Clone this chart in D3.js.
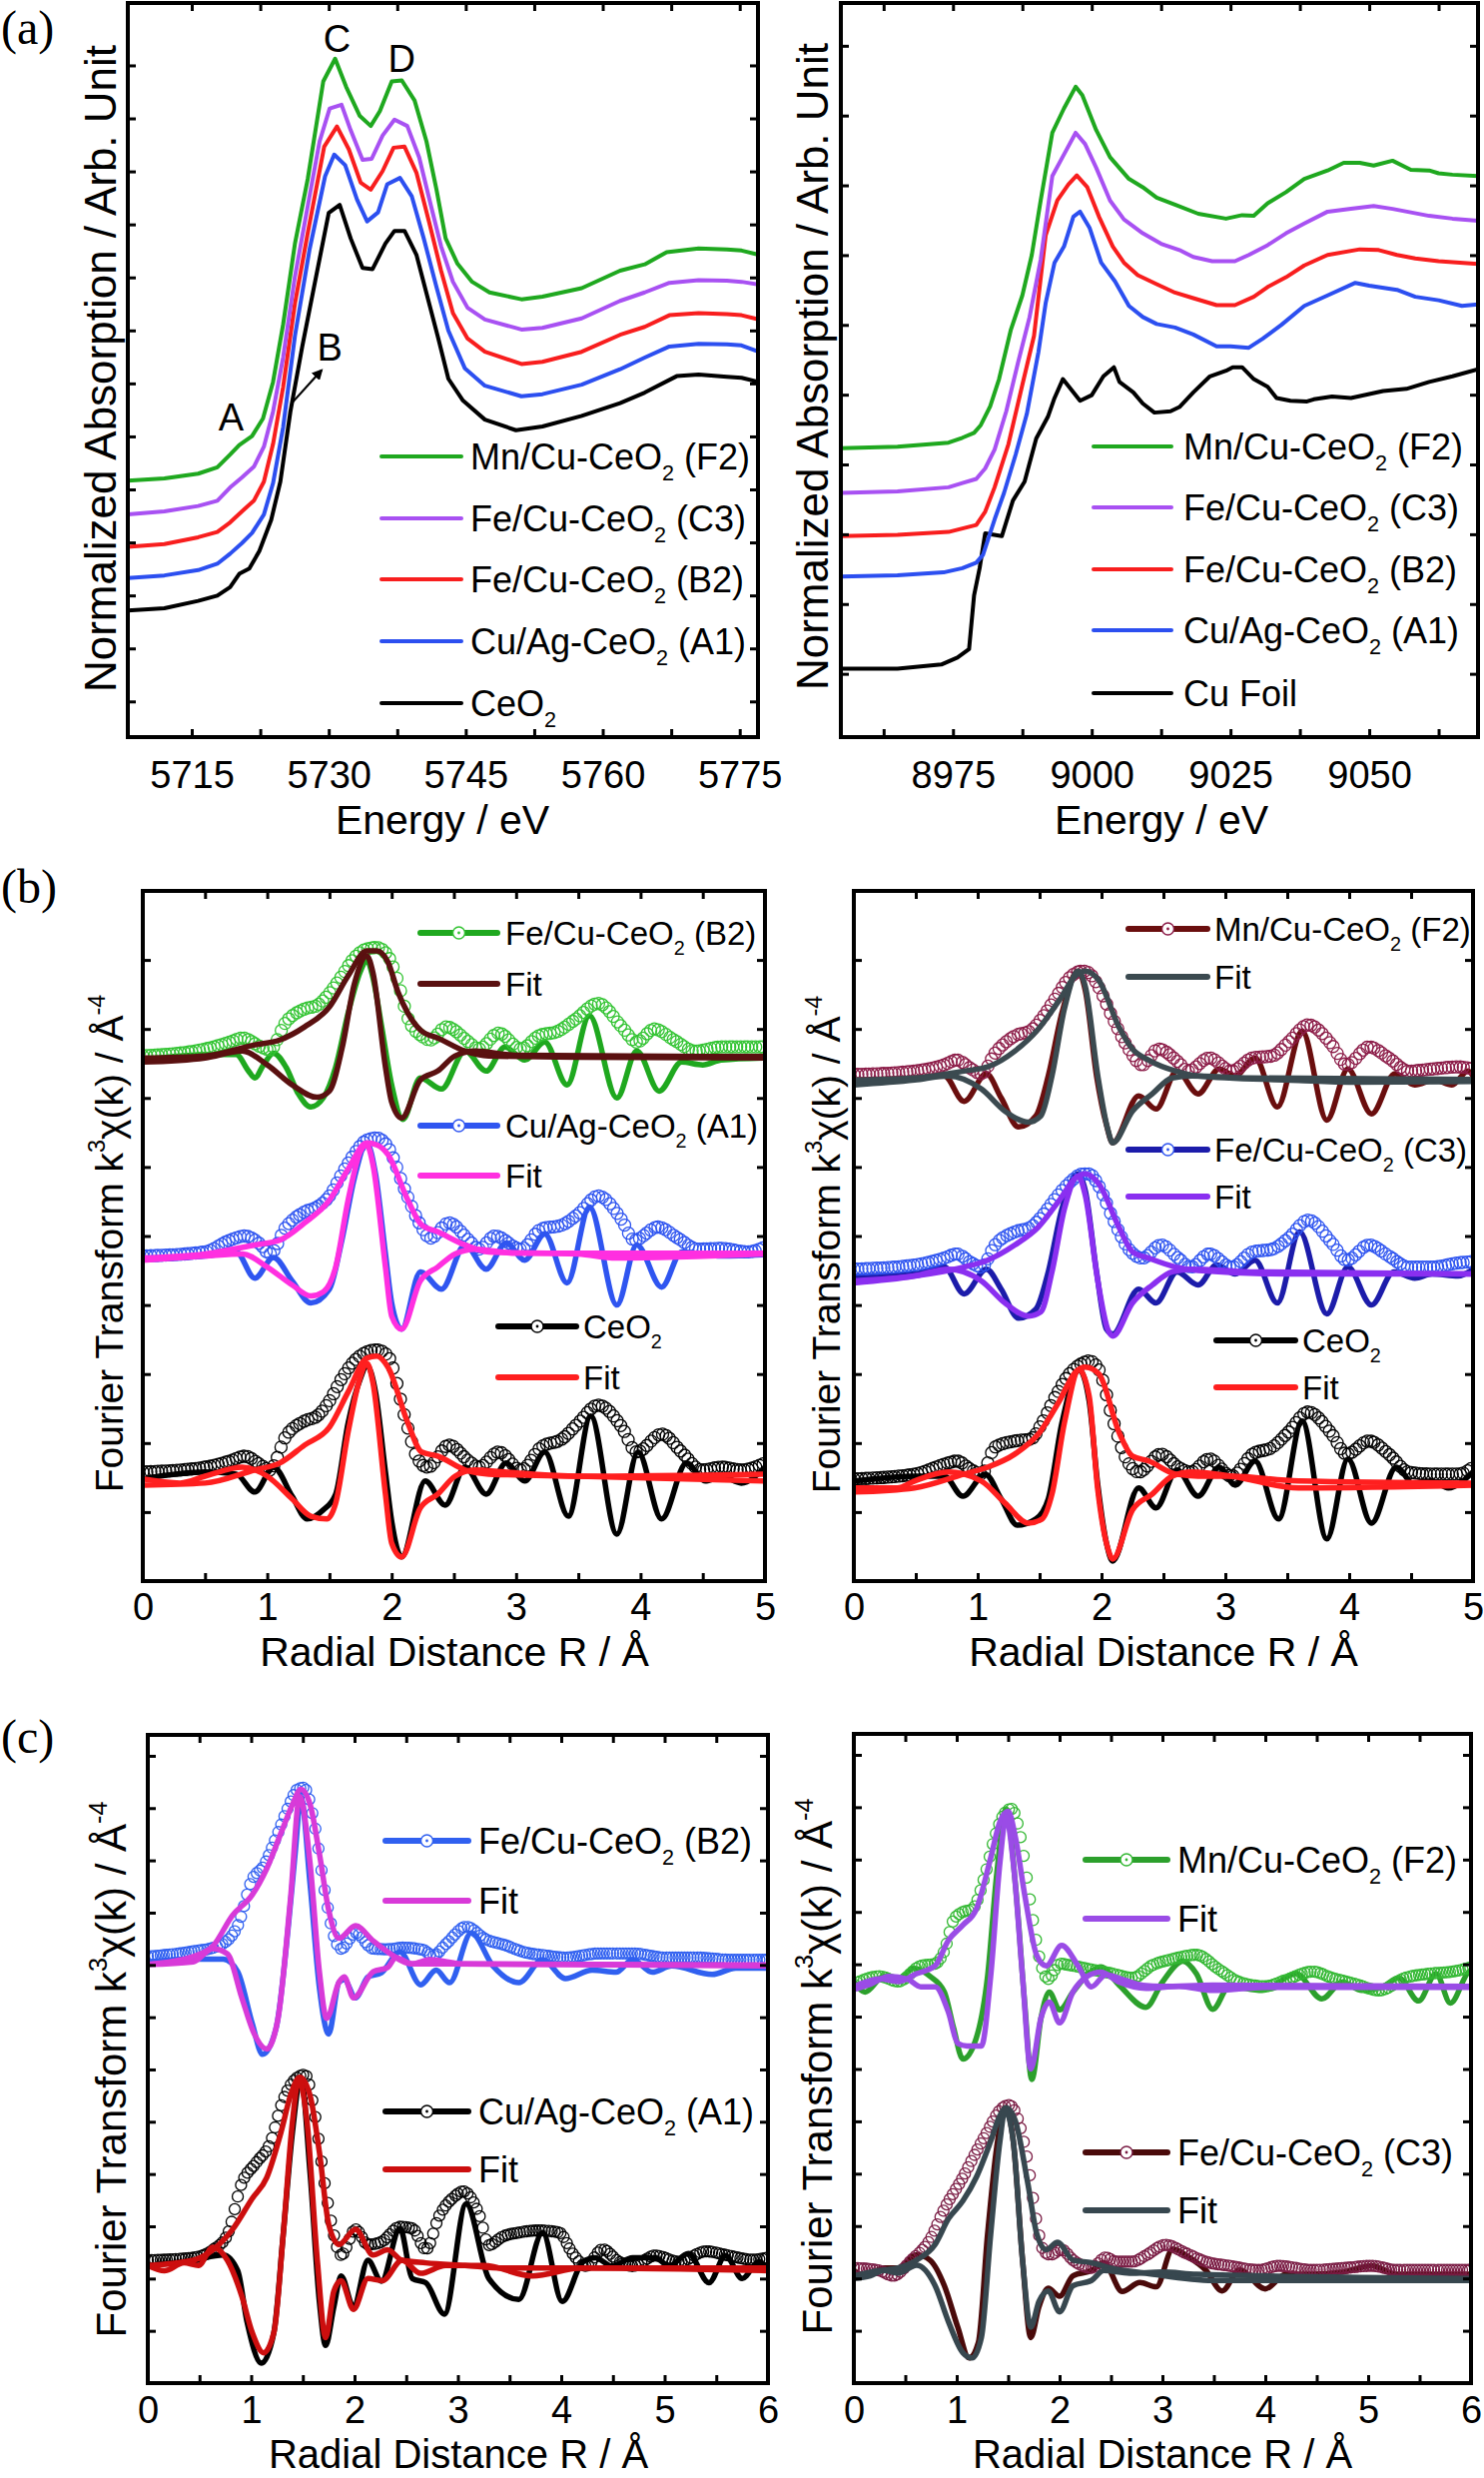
<!DOCTYPE html>
<html>
<head>
<meta charset="utf-8">
<script src="https://cdn.jsdelivr.net/npm/d3@7"></script>
<style>
body { margin: 0; background: #fff; }
text { fill: #000; }
</style>
</head>
<body>
<svg id="fig" width="1486" height="2481"></svg>
<script>
// ---------- (a) left : Ce L3 edge ----------
var aLeftNames = ["Mn/Cu-CeO{_2} (F2)", "Fe/Cu-CeO{_2} (C3)", "Fe/Cu-CeO{_2} (B2)", "Cu/Ag-CeO{_2} (A1)", "CeO{_2}"];
var aLeftF2 = [[5708.0,4.84],[5712.0,4.88],[5715.7,4.97],[5717.8,5.09],[5719.2,5.33],[5720.2,5.51],[5721.6,5.68],[5722.8,6.01],[5723.9,6.70],[5725.0,7.78],[5726.3,9.31],[5727.7,10.53],[5729.4,12.37],[5730.7,12.80],[5731.9,12.27],[5733.4,11.72],[5734.6,11.53],[5735.6,11.81],[5736.9,12.37],[5738.0,12.39],[5739.4,12.01],[5740.7,11.24],[5741.8,10.33],[5742.8,9.41],[5744.1,8.93],[5745.7,8.59],[5747.6,8.39],[5751.1,8.26],[5753.4,8.31],[5757.7,8.47],[5761.9,8.80],[5764.6,8.92],[5767.0,9.15],[5770.5,9.22],[5773.6,9.20],[5775.2,9.18],[5777.1,9.10]];
var aLeftC3 = [[5708.0,4.20],[5712.0,4.26],[5715.7,4.36],[5717.8,4.46],[5719.2,4.71],[5720.5,4.90],[5721.8,5.10],[5722.9,5.48],[5723.9,6.14],[5725.0,7.16],[5726.3,8.69],[5727.7,10.02],[5729.0,11.24],[5730.1,11.86],[5731.4,11.93],[5732.4,11.45],[5733.7,10.89],[5734.7,10.91],[5735.9,11.35],[5737.2,11.65],[5738.6,11.53],[5739.9,10.94],[5741.2,10.02],[5742.3,9.26],[5743.6,8.59],[5745.2,8.10],[5747.1,7.88],[5751.1,7.69],[5753.4,7.72],[5757.7,7.90],[5761.9,8.23],[5764.6,8.39],[5767.3,8.57],[5770.5,8.62],[5773.6,8.61],[5775.2,8.59],[5777.1,8.54]];
var aLeftB2 = [[5708.0,3.59],[5712.0,3.64],[5715.7,3.77],[5717.8,3.87],[5719.2,4.05],[5720.5,4.26],[5721.8,4.46],[5722.9,4.82],[5723.9,5.53],[5725.0,6.60],[5726.3,8.18],[5727.7,9.51],[5729.5,11.14],[5730.9,11.52],[5732.2,11.09],[5733.5,10.46],[5734.6,10.33],[5735.9,10.68],[5737.1,11.12],[5738.3,11.14],[5739.6,10.65],[5741.0,9.71],[5742.3,8.80],[5743.6,8.00],[5745.2,7.52],[5747.1,7.27],[5751.1,7.04],[5753.4,7.08],[5757.7,7.27],[5761.9,7.59],[5764.6,7.74],[5767.3,7.96],[5770.5,8.00],[5773.6,7.98],[5775.2,7.96],[5777.1,7.88]];
var aLeftA1 = [[5708.0,3.00],[5712.0,3.05],[5715.7,3.15],[5717.8,3.27],[5719.2,3.46],[5720.5,3.66],[5721.6,3.85],[5722.9,4.20],[5723.9,4.79],[5725.0,5.84],[5726.3,7.57],[5727.9,9.20],[5729.6,10.58],[5730.6,10.99],[5731.8,10.79],[5733.1,10.14],[5734.2,9.73],[5735.4,9.90],[5736.4,10.43],[5737.8,10.55],[5739.1,10.20],[5740.4,9.41],[5741.8,8.49],[5743.1,7.67],[5744.9,6.96],[5747.1,6.63],[5751.1,6.43],[5753.4,6.47],[5757.7,6.65],[5761.9,6.94],[5764.6,7.16],[5767.3,7.37],[5770.5,7.42],[5773.6,7.41],[5775.2,7.39],[5777.1,7.27]];
var aLeftCe = [[5708.0,2.39],[5712.0,2.43],[5715.7,2.57],[5717.8,2.67],[5719.2,2.83],[5720.2,3.08],[5721.3,3.18],[5722.4,3.51],[5723.7,4.10],[5724.7,4.82],[5725.8,6.14],[5727.1,7.37],[5728.5,8.59],[5730.0,9.89],[5731.2,10.04],[5732.4,9.41],[5733.7,8.85],[5734.8,8.83],[5736.2,9.31],[5737.2,9.55],[5738.3,9.55],[5739.6,9.10],[5741.0,8.18],[5742.0,7.52],[5743.1,6.76],[5744.7,6.35],[5747.1,5.99],[5750.5,5.79],[5753.4,5.86],[5757.7,6.06],[5761.9,6.30],[5764.6,6.50],[5768.1,6.81],[5770.5,6.84],[5773.6,6.80],[5775.2,6.78],[5777.1,6.70]];
var aLeftXLabels = [5715, 5730, 5745, 5760, 5775];
var aLeftMarks = [["A",5719.3,6.04],["B",5730.1,7.37],["C",5730.9,13.18],["D",5738.0,12.80]];
var aLeftArrow = [[5726.0,6.31],[5729.2,6.92]];

// ---------- (a) right : Cu K edge ----------
var aRightNames = ["Mn/Cu-CeO{_2} (F2)", "Fe/Cu-CeO{_2} (C3)", "Fe/Cu-CeO{_2} (B2)", "Cu/Ag-CeO{_2} (A1)", "Cu Foil"];
var aRightF2 = [[8954.8,4.14],[8965.0,4.16],[8974.2,4.22],[8976.7,4.29],[8978.8,4.36],[8980.0,4.47],[8981.7,4.74],[8983.3,5.13],[8985.4,5.83],[8987.5,6.33],[8989.2,6.91],[8990.8,7.69],[8992.9,8.66],[8995.0,9.01],[8997.1,9.32],[8998.3,9.20],[9000.8,8.70],[9003.3,8.31],[9006.7,8.00],[9009.2,7.88],[9011.7,7.73],[9015.0,7.63],[9019.2,7.50],[9024.2,7.43],[9027.1,7.48],[9029.2,7.47],[9031.7,7.65],[9035.0,7.81],[9038.3,8.00],[9042.5,8.12],[9045.4,8.23],[9048.3,8.23],[9050.8,8.19],[9054.2,8.26],[9057.5,8.13],[9060.8,8.12],[9062.5,8.08],[9065.0,8.06],[9069.6,8.04]];
var aRightC3 = [[8954.8,3.50],[8965.0,3.52],[8974.2,3.58],[8976.7,3.64],[8979.2,3.70],[8980.8,3.85],[8982.5,4.12],[8984.6,4.67],[8986.7,5.36],[8988.8,6.02],[8990.8,6.84],[8992.9,8.04],[8995.0,8.35],[8997.1,8.66],[8998.8,8.50],[9000.8,8.16],[9003.3,7.69],[9005.8,7.42],[9009.2,7.22],[9012.5,7.07],[9015.8,6.98],[9018.3,6.88],[9021.7,6.82],[9025.8,6.82],[9028.3,6.91],[9031.7,7.05],[9035.0,7.22],[9038.3,7.36],[9042.5,7.53],[9046.7,7.57],[9050.8,7.61],[9054.2,7.57],[9057.5,7.52],[9060.8,7.47],[9065.0,7.43],[9069.6,7.40]];
var aRightB2 = [[8954.8,2.88],[8965.0,2.90],[8974.2,2.94],[8976.7,2.99],[8979.2,3.04],[8980.8,3.23],[8982.5,3.58],[8985.0,4.20],[8987.5,5.05],[8989.6,5.75],[8991.7,7.19],[8993.8,7.69],[8995.8,7.92],[8997.3,8.05],[8999.2,7.88],[9001.3,7.46],[9003.8,7.03],[9005.8,6.80],[9008.3,6.62],[9011.7,6.49],[9015.0,6.37],[9018.3,6.29],[9022.5,6.19],[9025.8,6.19],[9029.2,6.31],[9031.7,6.45],[9035.0,6.59],[9038.3,6.76],[9042.5,6.91],[9048.3,6.99],[9051.7,6.98],[9055.0,6.91],[9058.3,6.86],[9062.5,6.82],[9069.6,6.78]];
var aRightA1 = [[8954.8,2.30],[8965.0,2.32],[8973.3,2.36],[8976.7,2.42],[8979.2,2.50],[8980.4,2.61],[8982.5,3.12],[8984.2,3.50],[8986.3,4.05],[8988.3,4.63],[8990.4,5.52],[8991.7,6.22],[8993.3,6.80],[8995.0,7.03],[8996.7,7.46],[8997.9,7.53],[8999.6,7.30],[9001.7,6.80],[9004.2,6.53],[9006.7,6.18],[9009.2,6.02],[9011.7,5.92],[9015.0,5.87],[9018.3,5.77],[9022.5,5.60],[9025.0,5.60],[9028.3,5.58],[9030.8,5.71],[9034.2,5.91],[9038.3,6.18],[9042.5,6.33],[9047.5,6.51],[9050.0,6.47],[9055.0,6.41],[9058.3,6.31],[9062.5,6.26],[9066.7,6.18],[9069.6,6.20]];
var aRightFoil = [[8954.8,0.98],[8965.0,0.98],[8972.9,1.04],[8975.8,1.14],[8977.9,1.26],[8978.8,2.03],[8979.8,2.42],[8980.8,2.92],[8983.8,2.88],[8985.8,3.39],[8987.9,3.66],[8990.0,4.28],[8992.1,4.59],[8993.3,4.86],[8994.8,5.13],[8996.3,4.98],[8997.9,4.82],[9000.0,4.90],[9002.1,5.17],[9004.0,5.30],[9005.0,5.09],[9007.5,4.94],[9009.2,4.78],[9011.3,4.65],[9014.2,4.67],[9015.8,4.73],[9018.3,4.94],[9021.3,5.17],[9024.2,5.25],[9025.4,5.30],[9027.1,5.30],[9029.2,5.13],[9031.7,5.02],[9033.3,4.86],[9035.8,4.82],[9038.8,4.81],[9040.0,4.84],[9043.3,4.88],[9046.7,4.86],[9052.5,4.96],[9056.7,4.99],[9060.8,5.09],[9065.0,5.17],[9069.6,5.27]];
var aRightXLabels = [8975, 9000, 9025, 9050];

var aColors = ["#1fa81f", "#a851f2", "#f81e1e", "#2c4ff0", "#000000"];

// ---------- (b) left : FT-EXAFS ----------
var bLeftNames = ["Fe/Cu-CeO{_2} (B2)", "Fit", "Cu/Ag-CeO{_2} (A1)", "Fit", "CeO{_2}", "Fit"];
var bB2Im = [[0,7.55],[0.3,7.61],[0.6,7.63],[0.75,7.63],[0.85,7.39],[0.9,7.29],[0.97,7.48],[1.05,7.65],[1.15,7.45],[1.25,7.06],[1.35,6.87],[1.45,7.0],[1.55,7.45],[1.65,8.23],[1.75,8.84],[1.8,9.0],[1.85,8.74],[1.92,8.03],[2.0,7.19],[2.09,6.69],[2.23,7.29],[2.4,7.13],[2.59,7.68],[2.76,7.39],[2.91,7.74],[3.07,7.55],[3.23,7.81],[3.41,7.19],[3.59,8.19],[3.81,7.0],[3.97,7.68],[4.15,7.10],[4.33,7.52],[4.5,7.48],[4.65,7.55],[5.0,7.58]];
var bB2Mag = [[0,7.61],[0.5,7.71],[0.7,7.81],[0.8,7.87],[0.95,7.74],[1.02,7.70],[1.15,8.1],[1.3,8.29],[1.4,8.34],[1.5,8.52],[1.6,8.77],[1.7,9.03],[1.8,9.16],[1.88,9.18],[1.97,9.06],[2.05,8.69],[2.13,8.16],[2.24,7.9],[2.31,7.84],[2.44,8.03],[2.62,7.81],[2.70,7.71],[2.86,7.94],[3.04,7.71],[3.18,7.9],[3.34,7.97],[3.47,8.13],[3.66,8.37],[3.85,8.03],[3.97,7.81],[4.11,8.0],[4.27,7.84],[4.44,7.68],[4.65,7.74],[5.0,7.74]];
var bB2FitMag = [[0,7.58],[0.5,7.61],[0.9,7.77],[1.1,7.84],[1.3,8.03],[1.5,8.32],[1.65,8.77],[1.8,9.13],[1.88,9.13],[1.97,8.97],[2.05,8.54],[2.13,8.23],[2.24,7.97],[2.37,7.87],[2.59,7.68],[2.78,7.61],[3.5,7.59],[5.0,7.58]];
var bB2FitIm = [[0,7.52],[0.5,7.58],[0.8,7.68],[1.0,7.48],[1.2,7.19],[1.4,7.01],[1.5,7.1],[1.6,7.71],[1.7,8.65],[1.8,9.06],[1.85,8.81],[1.95,7.45],[2.0,6.94],[2.08,6.71],[2.23,7.26],[2.37,7.39],[2.51,7.61],[2.67,7.68],[3.0,7.62],[5.0,7.6]];
var bA1Im = [[0,4.68],[0.5,4.71],[0.75,4.77],[0.9,4.39],[1.05,4.69],[1.2,4.35],[1.35,4.03],[1.5,4.23],[1.6,4.94],[1.7,5.84],[1.8,6.35],[1.87,5.9],[1.95,4.74],[2.0,4.03],[2.08,3.65],[2.23,4.48],[2.40,4.23],[2.59,4.87],[2.76,4.52],[2.92,4.9],[3.07,4.65],[3.23,5.03],[3.41,4.32],[3.59,5.42],[3.81,4.0],[3.97,4.87],[4.17,4.26],[4.33,4.77],[4.65,4.71],[5.0,4.73]];
var bA1Mag = [[0,4.71],[0.5,4.77],[0.7,4.94],[0.82,5.0],[0.95,4.87],[1.02,4.74],[1.15,5.13],[1.3,5.35],[1.4,5.42],[1.5,5.58],[1.6,5.9],[1.7,6.19],[1.8,6.39],[1.88,6.42],[1.97,6.29],[2.11,5.65],[2.24,5.13],[2.31,4.97],[2.46,5.19],[2.62,4.94],[2.70,4.81],[2.83,5.0],[3.04,4.81],[3.2,5.1],[3.37,5.16],[3.5,5.32],[3.66,5.58],[3.85,5.23],[3.95,4.94],[4.14,5.13],[4.30,4.97],[4.46,4.81],[4.65,4.82],[4.86,4.77],[5.0,4.84]];
var bA1FitMag = [[0,4.68],[0.5,4.74],[0.9,4.87],[1.1,4.94],[1.3,5.19],[1.5,5.52],[1.65,5.97],[1.8,6.35],[1.88,6.32],[1.97,6.18],[2.13,5.52],[2.24,5.16],[2.37,5.06],[2.59,4.87],[2.78,4.77],[3.5,4.74],[3.8,4.68],[5.0,4.74]];
var bA1FitIm = [[0,4.65],[0.5,4.71],[0.8,4.74],[1.0,4.55],[1.2,4.29],[1.35,4.13],[1.45,4.19],[1.55,4.55],[1.65,5.52],[1.75,6.23],[1.8,6.32],[1.85,6.03],[1.95,4.55],[2.0,3.84],[2.08,3.65],[2.23,4.35],[2.37,4.55],[2.51,4.74],[2.67,4.81],[3.0,4.75],[5.0,4.75]];
var bCeIm = [[0,1.48],[0.5,1.58],[0.75,1.55],[0.9,1.29],[1.05,1.65],[1.2,1.23],[1.32,0.9],[1.45,1.03],[1.55,1.26],[1.65,2.29],[1.75,2.94],[1.8,3.13],[1.87,2.74],[1.95,1.58],[2.0,0.87],[2.08,0.35],[2.27,1.45],[2.43,1.1],[2.59,1.65],[2.76,1.26],[2.92,1.71],[3.07,1.45],[3.23,1.87],[3.42,0.94],[3.60,2.39],[3.81,0.68],[3.98,1.87],[4.17,0.9],[4.37,1.71],[4.52,1.45],[4.65,1.52],[4.81,1.42],[5.0,1.65]];
var bCeMag = [[0,1.58],[0.5,1.65],[0.7,1.74],[0.82,1.81],[0.95,1.68],[1.02,1.61],[1.15,2.1],[1.3,2.32],[1.4,2.39],[1.5,2.61],[1.6,2.94],[1.7,3.19],[1.8,3.32],[1.88,3.35],[1.97,3.26],[2.11,2.35],[2.21,1.77],[2.29,1.65],[2.46,1.97],[2.62,1.74],[2.70,1.65],[2.86,1.87],[3.04,1.61],[3.2,1.94],[3.37,2.06],[3.5,2.29],[3.66,2.55],[3.85,2.23],[3.97,1.87],[4.17,2.13],[4.33,1.87],[4.49,1.61],[4.65,1.65],[4.81,1.61],[5.0,1.71]];
var bCeFitMag = [[0,1.39],[0.5,1.42],[0.9,1.61],[1.1,1.71],[1.3,1.97],[1.5,2.23],[1.65,2.74],[1.8,3.23],[1.88,3.26],[1.97,3.1],[2.13,2.29],[2.24,1.87],[2.37,1.81],[2.59,1.61],[2.78,1.55],[3.5,1.52],[5.0,1.45]];
var bCeFitIm = [[0,1.48],[0.3,1.42],[0.5,1.52],[0.8,1.65],[1.0,1.52],[1.2,1.19],[1.35,0.94],[1.48,0.9],[1.55,1.13],[1.65,2.16],[1.75,2.97],[1.8,3.16],[1.85,2.87],[1.95,1.26],[2.0,0.55],[2.08,0.35],[2.23,1.06],[2.37,1.26],[2.51,1.52],[2.67,1.61],[2.91,1.58],[3.5,1.52],[5.0,1.55]];

// ---------- (b) right ----------
var bRightNames = ["Mn/Cu-CeO{_2} (F2)", "Fit", "Fe/Cu-CeO{_2} (C3)", "Fit", "CeO{_2}", "Fit"];
var bF2Im = [[0,7.26],[0.49,7.29],[0.73,7.32],[0.89,6.95],[1.07,7.35],[1.19,7.0],[1.33,6.58],[1.47,6.74],[1.57,7.32],[1.68,8.23],[1.81,8.84],[1.87,8.55],[1.96,7.32],[2.04,6.61],[2.09,6.35],[2.30,7.03],[2.44,6.84],[2.61,7.39],[2.78,7.06],[2.95,7.42],[3.08,7.32],[3.24,7.58],[3.42,6.87],[3.62,7.97],[3.82,6.68],[3.99,7.42],[4.18,6.77],[4.37,7.35],[4.53,7.19],[4.69,7.26],[4.83,7.19],[4.96,7.39],[5.0,7.32]];
var bF2Mag = [[0,7.34],[0.49,7.39],[0.73,7.48],[0.83,7.55],[0.95,7.42],[1.03,7.35],[1.14,7.65],[1.30,7.9],[1.43,7.98],[1.52,8.16],[1.63,8.45],[1.74,8.74],[1.85,8.84],[1.90,8.81],[1.98,8.6],[2.09,8.16],[2.22,7.71],[2.33,7.48],[2.46,7.71],[2.62,7.52],[2.70,7.39],[2.87,7.58],[3.05,7.39],[3.22,7.58],[3.38,7.61],[3.51,7.81],[3.67,8.06],[3.86,7.77],[3.98,7.48],[4.16,7.74],[4.32,7.58],[4.48,7.39],[4.67,7.42],[4.88,7.45],[5.0,7.42]];
var bF2FitMag = [[0,7.26],[0.49,7.29],[0.89,7.39],[1.08,7.45],[1.30,7.68],[1.49,8.0],[1.66,8.42],[1.79,8.77],[1.87,8.84],[1.98,8.7],[2.14,8.03],[2.25,7.71],[2.38,7.55],[2.60,7.39],[2.78,7.32],[3.5,7.26],[4.0,7.23],[5.0,7.24]];
var bF2FitIm = [[0,7.19],[0.49,7.26],[0.76,7.32],[1.03,7.13],[1.22,6.81],[1.41,6.65],[1.51,6.74],[1.60,7.32],[1.70,8.29],[1.81,8.84],[1.87,8.61],[1.97,7.32],[2.05,6.55],[2.09,6.35],[2.25,6.81],[2.41,7.06],[2.57,7.29],[2.73,7.32],[3.2,7.29],[5.0,7.27]];
var bC3Im = [[0,4.42],[0.49,4.45],[0.73,4.55],[0.89,4.16],[1.07,4.52],[1.19,4.23],[1.33,3.81],[1.47,3.94],[1.57,4.48],[1.68,5.39],[1.81,5.9],[1.87,5.65],[1.96,4.48],[2.04,3.65],[2.09,3.58],[2.30,4.23],[2.44,4.03],[2.61,4.48],[2.78,4.29],[2.93,4.58],[3.08,4.45],[3.24,4.65],[3.42,4.03],[3.60,5.06],[3.82,3.87],[3.99,4.55],[4.18,4.0],[4.36,4.48],[4.53,4.39],[4.67,4.45],[4.88,4.42],[5.0,4.52]];
var bC3Mag = [[0,4.52],[0.49,4.58],[0.73,4.68],[0.83,4.74],[0.95,4.61],[1.03,4.55],[1.14,4.87],[1.30,5.06],[1.43,5.13],[1.52,5.29],[1.63,5.55],[1.74,5.77],[1.85,5.9],[1.90,5.9],[1.98,5.72],[2.09,5.26],[2.22,4.81],[2.33,4.68],[2.48,4.87],[2.62,4.68],[2.72,4.55],[2.87,4.74],[3.05,4.55],[3.22,4.77],[3.38,4.81],[3.51,4.97],[3.67,5.23],[3.86,4.9],[3.98,4.65],[4.16,4.87],[4.32,4.71],[4.48,4.55],[4.67,4.55],[4.88,4.61],[5.0,4.63]];
var bC3FitMag = [[0,4.35],[0.49,4.42],[0.89,4.55],[1.08,4.65],[1.30,4.87],[1.49,5.13],[1.66,5.52],[1.79,5.84],[1.87,5.9],[1.98,5.75],[2.14,5.13],[2.25,4.77],[2.38,4.68],[2.60,4.55],[2.78,4.5],[3.5,4.45],[5.0,4.45]];
var bC3FitIm = [[0,4.32],[0.49,4.42],[0.76,4.52],[1.03,4.35],[1.22,4.03],[1.41,3.84],[1.51,3.9],[1.60,4.48],[1.70,5.39],[1.81,5.87],[1.87,5.58],[1.97,4.35],[2.05,3.65],[2.09,3.55],[2.25,4.03],[2.41,4.29],[2.57,4.48],[2.73,4.52],[3.2,4.48],[5.0,4.45]];
var bCe2Im = [[0,1.45],[0.49,1.52],[0.73,1.52],[0.88,1.23],[1.06,1.55],[1.19,1.19],[1.32,0.81],[1.47,0.9],[1.57,1.19],[1.68,2.29],[1.82,3.06],[1.90,2.61],[1.97,1.39],[2.04,0.55],[2.09,0.29],[2.30,1.35],[2.44,1.06],[2.61,1.61],[2.78,1.23],[2.95,1.65],[3.08,1.39],[3.24,1.74],[3.43,0.9],[3.62,2.32],[3.82,0.61],[3.99,1.77],[4.18,0.84],[4.38,1.65],[4.53,1.39],[4.67,1.45],[4.80,1.35],[5.0,1.58]];
var bCe2Mag = [[0,1.48],[0.49,1.55],[0.76,1.71],[0.83,1.74],[0.95,1.61],[1.03,1.55],[1.14,1.94],[1.30,2.03],[1.43,2.06],[1.52,2.29],[1.63,2.68],[1.74,3.0],[1.85,3.16],[1.90,3.19],[1.98,3.06],[2.09,2.35],[2.20,1.77],[2.30,1.58],[2.48,1.84],[2.62,1.65],[2.72,1.58],[2.87,1.77],[3.05,1.52],[3.22,1.84],[3.38,1.94],[3.51,2.16],[3.67,2.45],[3.86,2.13],[3.98,1.84],[4.16,2.03],[4.32,1.84],[4.48,1.58],[4.67,1.55],[4.88,1.55],[5.0,1.65]];
var bCe2FitMag = [[0,1.29],[0.49,1.35],[0.89,1.55],[1.08,1.65],[1.30,1.84],[1.49,2.13],[1.66,2.61],[1.79,3.03],[1.87,3.1],[1.98,3.0],[2.14,2.16],[2.25,1.81],[2.38,1.74],[2.60,1.55],[2.78,1.52],[3.05,1.52],[3.59,1.45],[5.0,1.42]];
var bCe2FitIm = [[0,1.35],[0.35,1.35],[0.49,1.45],[0.76,1.58],[1.03,1.45],[1.22,1.13],[1.41,0.84],[1.52,0.9],[1.60,1.26],[1.70,2.29],[1.82,3.06],[1.90,2.68],[1.97,1.32],[2.05,0.48],[2.09,0.32],[2.25,1.03],[2.41,1.26],[2.57,1.52],[2.73,1.58],[3.05,1.52],[3.59,1.35],[5.0,1.39]];
var bXLabels = [0, 1, 2, 3, 4, 5];

// ---------- (c) left : FT-EXAFS Cu edge ----------
var cLeftNames = ["Fe/Cu-CeO{_2} (B2)", "Fit", "Cu/Ag-CeO{_2} (A1)", "Fit"];
var cB2Im = [[0,8.06],[0.44,8.11],[0.73,8.11],[0.87,7.87],[1.01,6.88],[1.11,6.29],[1.24,6.78],[1.36,8.75],[1.43,10.23],[1.48,11.22],[1.57,9.55],[1.66,7.57],[1.75,6.68],[1.85,7.67],[1.90,7.72],[2.01,7.37],[2.13,7.77],[2.26,7.85],[2.44,8.25],[2.64,7.62],[2.79,7.9],[2.92,7.66],[3.13,8.61],[3.34,7.98],[3.59,7.66],[3.82,8.10],[4.04,7.74],[4.30,7.9],[4.53,7.86],[4.69,8.10],[4.88,7.86],[5.07,7.98],[5.46,7.82],[5.69,7.94],[6.0,7.94]];
var cB2Mag = [[0,8.16],[0.44,8.26],[0.68,8.36],[0.87,8.75],[1.01,9.64],[1.12,9.89],[1.24,10.43],[1.36,11.02],[1.45,11.36],[1.51,11.39],[1.61,10.72],[1.71,9.44],[1.80,8.56],[1.87,8.31],[2.01,8.61],[2.18,8.31],[2.32,8.3],[2.47,8.33],[2.66,8.29],[2.76,8.18],[2.89,8.41],[3.08,8.73],[3.27,8.49],[3.47,8.37],[3.63,8.25],[3.85,8.18],[4.04,8.14],[4.37,8.22],[4.69,8.22],[5.01,8.14],[5.33,8.14],[5.62,8.1],[6.0,8.1]];
var cB2FitMag = [[0,8.01],[0.44,8.16],[0.63,8.36],[0.82,8.95],[1.01,9.34],[1.15,9.84],[1.29,10.53],[1.40,11.07],[1.48,11.36],[1.57,11.07],[1.66,10.13],[1.75,9.05],[1.85,8.51],[2.01,8.75],[2.18,8.46],[2.32,8.25],[2.56,8.02],[2.89,8.02],[6.0,8.0]];
var cB2FitIm = [[0,8.01],[0.44,8.06],[0.63,8.31],[0.77,8.21],[0.91,7.37],[1.03,6.68],[1.15,6.39],[1.26,6.98],[1.38,9.25],[1.47,11.22],[1.57,9.94],[1.66,7.87],[1.73,6.98],[1.85,7.67],[1.90,7.77],[1.99,7.37],[2.18,7.87],[2.32,7.95],[2.40,8.14],[2.56,8.02],[2.73,8.1],[3.05,8.02],[6.0,7.98]];
var cA1Im = [[0,2.25],[0.44,2.35],[0.73,2.45],[0.87,2.15],[0.96,1.17],[1.10,0.38],[1.22,0.97],[1.31,2.84],[1.40,4.81],[1.48,5.85],[1.57,4.02],[1.66,1.56],[1.72,0.72],[1.80,1.46],[1.87,2.05],[1.99,1.46],[2.13,2.35],[2.26,1.95],[2.44,2.96],[2.56,2.0],[2.69,1.92],[2.87,1.32],[3.08,3.43],[3.30,2.0],[3.59,1.6],[3.82,2.88],[4.01,1.56],[4.21,2.32],[4.33,2.4],[4.49,2.24],[4.69,2.4],[4.91,2.4],[5.04,2.24],[5.23,2.48],[5.43,1.92],[5.59,2.44],[5.75,2.0],[5.91,2.32],[6.0,2.16]];
var cA1Mag = [[0,2.35],[0.44,2.4],[0.63,2.55],[0.77,2.84],[0.91,3.83],[1.05,4.22],[1.19,4.62],[1.29,5.31],[1.38,5.7],[1.45,5.85],[1.52,5.9],[1.61,5.21],[1.71,3.83],[1.80,2.84],[1.87,2.45],[2.01,2.94],[2.13,2.65],[2.26,2.7],[2.44,2.99],[2.56,2.96],[2.69,2.56],[2.82,3.2],[2.98,3.59],[3.05,3.67],[3.21,3.2],[3.30,2.64],[3.43,2.8],[3.59,2.88],[3.79,2.92],[3.98,2.88],[4.11,2.48],[4.24,2.24],[4.40,2.56],[4.56,2.32],[4.69,2.24],[4.91,2.44],[5.14,2.32],[5.40,2.52],[5.62,2.44],[5.85,2.36],[6.0,2.4]];
var cA1FitMag = [[0,2.25],[0.44,2.35],[0.63,2.55],[0.82,2.94],[1.01,3.53],[1.15,3.93],[1.29,4.81],[1.38,5.5],[1.47,5.85],[1.57,5.5],[1.66,4.42],[1.75,3.04],[1.85,2.65],[2.01,2.94],[2.18,2.45],[2.32,2.55],[2.46,2.35],[2.69,2.3],[3.07,2.25],[3.44,2.2],[6.0,2.2]];
var cA1FitIm = [[0,2.25],[0.16,2.15],[0.35,2.3],[0.49,2.25],[0.63,2.6],[0.77,2.35],[0.91,1.66],[1.01,0.97],[1.12,0.58],[1.22,0.97],[1.31,2.84],[1.40,5.01],[1.46,5.8],[1.54,5.01],[1.64,2.35],[1.72,0.87],[1.80,1.76],[1.87,1.96],[1.99,1.41],[2.13,2.0],[2.27,1.96],[2.46,2.35],[2.64,2.1],[2.88,2.25],[3.25,2.25],[3.72,2.05],[4.19,2.2],[6.0,2.15]];

// ---------- (c) right ----------
var cRightNames = ["Mn/Cu-CeO{_2} (F2)", "Fit", "Fe/Cu-CeO{_2} (C3)", "Fit"];
var cF2Im = [[0,7.67],[0.11,7.47],[0.29,7.77],[0.43,7.72],[0.58,7.92],[0.74,7.77],[0.88,7.47],[0.97,6.78],[1.06,6.19],[1.19,6.59],[1.30,7.77],[1.39,9.74],[1.48,10.97],[1.57,9.54],[1.66,7.28],[1.73,5.8],[1.82,6.98],[1.90,7.47],[2.0,7.13],[2.13,7.47],[2.31,7.87],[2.40,7.95],[2.58,7.6],[2.84,7.18],[3.0,7.66],[3.20,8.06],[3.33,7.82],[3.49,7.14],[3.65,7.58],[3.97,7.5],[4.30,7.82],[4.55,7.34],[4.75,7.66],[4.94,7.5],[5.13,7.56],[5.30,7.74],[5.49,7.30],[5.66,7.82],[5.80,7.26],[5.98,7.86],[6.0,7.88]];
var cF2Mag = [[0,7.62],[0.25,7.77],[0.43,7.67],[0.65,7.97],[0.79,8.01],[0.88,8.26],[0.97,8.85],[1.06,9.0],[1.15,9.05],[1.28,9.74],[1.37,10.43],[1.46,10.87],[1.53,10.97],[1.62,10.43],[1.71,9.25],[1.80,8.16],[1.89,7.72],[2.0,8.01],[2.13,7.97],[2.31,7.9],[2.52,7.82],[2.71,7.74],[2.90,7.98],[3.10,8.1],[3.33,8.18],[3.55,7.9],[3.75,7.66],[4.0,7.58],[4.20,7.7],[4.46,7.86],[4.65,7.74],[4.88,7.62],[5.11,7.5],[5.36,7.74],[5.59,7.82],[5.82,7.86],[6.0,7.94]];
var cF2FitMag = [[0,7.57],[0.25,7.72],[0.43,7.67],[0.61,7.82],[0.79,7.97],[0.92,8.46],[1.06,8.75],[1.19,9.05],[1.33,10.03],[1.42,10.72],[1.50,10.92],[1.57,10.43],[1.66,9.34],[1.78,8.16],[1.87,7.97],[2.02,8.36],[2.18,7.97],[2.31,7.57],[2.45,7.8],[2.63,7.7],[2.81,7.6],[3.0,7.58],[3.49,7.6],[6.0,7.58]];
var cF2FitIm = [[0,7.52],[0.16,7.62],[0.34,7.77],[0.52,7.72],[0.65,7.57],[0.79,7.57],[0.92,7.08],[1.01,6.49],[1.10,6.44],[1.24,6.44],[1.33,7.77],[1.42,9.94],[1.48,10.82],[1.55,9.94],[1.64,7.77],[1.72,6.0],[1.82,6.98],[1.90,7.28],[2.0,6.88],[2.13,7.47],[2.27,7.77],[2.40,7.85],[2.58,7.66],[2.84,7.54],[3.16,7.58],[3.49,7.5],[4.0,7.56],[6.0,7.56]];
var cC3Im = [[0,2.15],[0.11,2.05],[0.29,2.2],[0.43,2.2],[0.61,2.45],[0.74,2.35],[0.88,1.86],[1.01,1.07],[1.12,0.48],[1.21,0.77],[1.30,2.84],[1.39,4.52],[1.47,5.26],[1.55,4.62],[1.64,2.35],[1.72,0.87],[1.80,1.46],[1.89,1.81],[2.0,1.66],[2.13,2.05],[2.31,2.15],[2.43,2.3],[2.61,1.75],[2.78,1.92],[2.94,1.84],[3.10,2.56],[3.26,2.4],[3.42,2.16],[3.58,1.76],[3.75,2.16],[4.0,1.8],[4.20,2.08],[4.46,2.08],[4.75,2.12],[5.04,2.24],[5.27,2.08],[5.59,2.08],[6.0,2.08]];
var cC3Mag = [[0,2.2],[0.25,2.15],[0.38,2.05],[0.56,2.35],[0.74,2.74],[0.88,3.33],[1.06,3.93],[1.19,4.42],[1.30,4.81],[1.42,5.21],[1.51,5.31],[1.60,5.01],[1.69,4.22],[1.78,3.04],[1.84,2.55],[1.91,2.45],[2.02,2.55],[2.13,2.35],[2.31,2.2],[2.45,2.4],[2.55,2.32],[2.71,2.32],[2.84,2.44],[3.03,2.64],[3.23,2.48],[3.42,2.32],[3.65,2.24],[3.94,2.16],[4.13,2.24],[4.46,2.16],[4.78,2.2],[5.04,2.24],[5.27,2.16],[6.0,2.16]];
var cC3FitMag = [[0,2.05],[0.25,2.15],[0.43,2.2],[0.61,2.35],[0.79,2.65],[0.92,3.14],[1.06,3.48],[1.19,3.93],[1.33,4.62],[1.42,5.11],[1.48,5.26],[1.57,5.01],[1.69,3.83],[1.78,2.84],[1.87,2.55],[1.98,2.69],[2.13,2.35],[2.31,2.3],[2.49,2.2],[2.84,2.1],[3.49,1.96],[6.0,1.96]];
var cC3FitIm = [[0,2.0],[0.16,2.05],[0.29,2.15],[0.43,2.1],[0.61,2.25],[0.79,1.86],[0.92,1.17],[1.06,0.58],[1.15,0.48],[1.24,0.87],[1.33,2.84],[1.42,4.62],[1.47,5.21],[1.55,4.62],[1.64,2.35],[1.72,1.07],[1.80,1.56],[1.89,1.76],[2.0,1.36],[2.13,1.86],[2.31,1.96],[2.43,2.15],[2.68,2.1],[3.0,2.12],[3.33,2.08],[6.0,2.0]];
var cXLabels = [0, 1, 2, 3, 4, 5, 6];

var FONT = "'Liberation Sans', Arial, sans-serif";
var svg = d3.select("#fig");

// text with {_x} subscripts and {^x} superscripts
function rich(t, str, size) {
  var re = /\{([_^])([^}]*)\}/g, last = 0, m, cur = 0;
  while ((m = re.exec(str)) !== null) {
    if (m.index > last) { t.append("tspan").attr("dy", -cur).text(str.slice(last, m.index)); cur = 0; }
    var s = m[1] === "_" ? 0.3 * size : -0.45 * size;
    t.append("tspan").attr("font-size", 0.6 * size).attr("dy", s - cur).text(m[2]);
    cur = s;
    last = re.lastIndex;
  }
  if (last < str.length) t.append("tspan").attr("dy", -cur).text(str.slice(last));
}

function drawCircles(plot, line, s, x, o) {
  var p = plot.append("path").attr("d", line(s.data)).attr("fill", "none");
  var node = p.node(), len = node.getTotalLength(), samples = [];
  for (var l = 0; l <= len; l += 1) samples.push(node.getPointAtLength(l));
  p.remove();
  var bis = d3.bisector(function(d) { return d.x; }).left;
  var r0 = s.data[0][0], r1 = s.data[s.data.length - 1][0];
  var pts = d3.range(r0, r1 + 1e-9, o.markerStep).map(function(r) {
    var i = Math.min(bis(samples, x(r)), samples.length - 1);
    return samples[i];
  });
  plot.append("g").selectAll("circle").data(pts).join("circle")
    .attr("cx", function(d) { return d.x; })
    .attr("cy", function(d) { return d.y; })
    .attr("r", o.markerR)
    .attr("fill", "none")
    .attr("stroke", s.color)
    .attr("stroke-width", 1.3);
}

function styleAxis(s, o) {
  s.attr("font-size", o.tickFont).attr("font-family", FONT);
  s.select(".domain").remove();
  s.selectAll(".tick line").attr("stroke", "#000").attr("stroke-width", 3);
  s.selectAll("text").attr("fill", "#000");
}

function panel(o) {
  var L = o.box[0], R = o.box[1], T = o.box[2], B = o.box[3];
  var x = d3.scaleLinear().domain(o.xDomain).range([L, R]);
  var y = d3.scaleLinear().domain(o.yDomain).range([B, T]);
  var g = svg.append("g");
  g.append("clipPath").attr("id", "clip-" + o.id)
    .append("rect").attr("x", L).attr("y", T).attr("width", R - L).attr("height", B - T);
  var plot = g.append("g").attr("clip-path", "url(#clip-" + o.id + ")");
  var line = d3.line().x(function(d) { return x(d[0]); }).y(function(d) { return y(d[1]); }).curve(o.curve);

  o.series.forEach(function(s) {
    if (s.kind === "circles") drawCircles(plot, line, s, x, o);
    else plot.append("path").attr("d", line(s.data))
      .attr("fill", "none").attr("stroke", s.color).attr("stroke-width", s.width || o.lineWidth)
      .attr("stroke-linejoin", "round").attr("stroke-linecap", "round");
  });

  var fmt = function(d) { return o.xLabels.indexOf(d) >= 0 ? String(d) : ""; };
  g.append("g").attr("transform", "translate(0," + B + ")")
    .call(d3.axisBottom(x).tickValues(o.xTicks).tickSize(-o.tickLen).tickFormat(fmt))
    .call(function(s) { styleAxis(s, o); })
    .selectAll("text").attr("y", o.tickBaseline - B).attr("dy", null);
  g.append("g").attr("transform", "translate(0," + T + ")")
    .call(d3.axisTop(x).tickValues(o.xTicks).tickSize(-o.tickLen).tickFormat(""))
    .call(function(s) { styleAxis(s, o); });
  g.append("g").attr("transform", "translate(" + L + ",0)")
    .call(d3.axisLeft(y).tickValues(o.yTicks).tickSize(-o.tickLen).tickFormat(""))
    .call(function(s) { styleAxis(s, o); });
  g.append("g").attr("transform", "translate(" + R + ",0)")
    .call(d3.axisRight(y).tickValues(o.yTicks).tickSize(-o.tickLen).tickFormat(""))
    .call(function(s) { styleAxis(s, o); });

  g.append("rect").attr("x", L).attr("y", T).attr("width", R - L).attr("height", B - T)
    .attr("fill", "none").attr("stroke", "#000").attr("stroke-width", 4);

  // axis titles
  g.append("text").attr("x", o.xTitle[1]).attr("y", o.xTitle[2])
    .attr("text-anchor", "middle").attr("font-family", FONT).attr("font-size", o.xTitle[3])
    .text(o.xTitle[0]);
  var yt = g.append("text")
    .attr("transform", "translate(" + o.yTitle[1] + "," + o.yTitle[2] + ") rotate(-90)")
    .attr("text-anchor", "middle").attr("font-family", FONT).attr("font-size", o.yTitle[3]);
  rich(yt, o.yTitle[0], o.yTitle[3]);

  // legend
  o.legend.forEach(function(r) {
    var lg = g.append("g");
    lg.append("line").attr("x1", r.x1).attr("x2", r.x2).attr("y1", r.y).attr("y2", r.y)
      .attr("stroke", r.color).attr("stroke-width", o.legendWidth).attr("stroke-linecap", "round");
    if (r.marker) {
      var cx = (r.x1 + r.x2) / 2;
      lg.append("circle").attr("cx", cx).attr("cy", r.y).attr("r", 6)
        .attr("fill", "#fff").attr("stroke", r.marker).attr("stroke-width", 1.4);
      lg.append("circle").attr("cx", cx).attr("cy", r.y).attr("r", 1.4).attr("fill", r.marker);
    }
    var t = lg.append("text").attr("x", r.tx).attr("y", r.y + 0.36 * o.legendFont)
      .attr("font-family", FONT).attr("font-size", o.legendFont);
    rich(t, r.label, o.legendFont);
  });
  return { x: x, y: y, g: g };
}

function legendRows(names, colors, markers, ys, x1, x2, tx) {
  return names.map(function(n, i) {
    return { label: n, color: colors[i], marker: markers ? markers[i] : null, y: ys[i],
             x1: Array.isArray(x1) ? x1[i] : x1, x2: Array.isArray(x2) ? x2[i] : x2, tx: Array.isArray(tx) ? tx[i] : tx };
  });
}

function ftSeries(list) {
  return list.map(function(s) { return { data: s[0], color: s[1], kind: s[2] }; });
}

// ---------------- panel (a) left ----------------
var aLeftSeries = [aLeftCe, aLeftA1, aLeftB2, aLeftC3, aLeftF2];
var aLeftCols = [aColors[4], aColors[3], aColors[2], aColors[1], aColors[0]];
var pA = panel({
  id: "aL", box: [128, 759, 3, 738], xDomain: [5708, 5777], yDomain: [0, 13.85],
  curve: d3.curveLinear, lineWidth: 4,
  series: aLeftSeries.map(function(d, i) { return { data: d, color: aLeftCols[i] }; }),
  xTicks: d3.range(5715, 5776, 7.5), xLabels: aLeftXLabels, yTicks: d3.range(0.673, 13, 1),
  tickLen: 8, tickFont: 38, tickBaseline: 789,
  xTitle: ["Energy / eV", 443, 835, 41], yTitle: ["Normalized Absorption / Arb. Unit", 116, 369, 44],
  legendWidth: 4, legendFont: 36,
  legend: legendRows(aLeftNames, aColors, null, [457, 519, 580, 642, 704], 382, 462, 471)
});
aLeftMarks.forEach(function(m) {
  pA.g.append("text").attr("x", pA.x(m[1])).attr("y", pA.y(m[2])).attr("dy", "0.36em")
    .attr("text-anchor", "middle").attr("font-family", FONT).attr("font-size", 38).text(m[0]);
});
svg.append("defs").append("marker").attr("id", "arrowhead").attr("viewBox", "0 0 10 10")
  .attr("refX", 8).attr("refY", 5).attr("markerWidth", 5).attr("markerHeight", 5).attr("orient", "auto")
  .append("path").attr("d", "M0,0 L10,5 L0,10 z").attr("fill", "#000");
pA.g.append("line")
  .attr("x1", pA.x(aLeftArrow[0][0])).attr("y1", pA.y(aLeftArrow[0][1]))
  .attr("x2", pA.x(aLeftArrow[1][0])).attr("y2", pA.y(aLeftArrow[1][1]))
  .attr("stroke", "#000").attr("stroke-width", 2.2).attr("marker-end", "url(#arrowhead)");

// ---------------- panel (a) right ----------------
var aRightSeries = [aRightFoil, aRightA1, aRightB2, aRightC3, aRightF2];
panel({
  id: "aR", box: [842, 1480, 3, 738], xDomain: [8954.8, 9069.6], yDomain: [0, 10.52],
  curve: d3.curveLinear, lineWidth: 4,
  series: aRightSeries.map(function(d, i) { return { data: d, color: aLeftCols[i] }; }),
  xTicks: d3.range(8962.5, 9070, 12.5), xLabels: aRightXLabels, yTicks: d3.range(0.907, 10.2, 1),
  tickLen: 8, tickFont: 38, tickBaseline: 789,
  xTitle: ["Energy / eV", 1163, 835, 41], yTitle: ["Normalized Absorption / Arb. Unit", 829, 367, 44],
  legendWidth: 4, legendFont: 36,
  legend: legendRows(aRightNames, aColors, null, [447, 508, 570, 631, 694], 1095, 1173, 1185)
});

// ---------------- panel (b) left ----------------
var bLeftCols = { imB2: "#1fa81f", cB2: "#33c433", fitB2: "#5a1010", imA1: "#2f55f0", cA1: "#2f55f0", fitA1: "#ff2fe0", imCe: "#000000", cCe: "#000000", fitCe: "#ff1f1f" };
var FT = "Fourier Transform k{^3}\u03c7(k) / \u00c5{^-4}";
panel({
  id: "bL", box: [143, 766, 892, 1583], xDomain: [0, 5], yDomain: [0, 10],
  curve: d3.curveMonotoneX, lineWidth: 5.5, markerStep: 0.03, markerR: 6,
  series: ftSeries([
    [bB2Im, bLeftCols.imB2], [bB2Mag, bLeftCols.cB2, "circles"], [bB2FitMag, bLeftCols.fitB2], [bB2FitIm, bLeftCols.fitB2],
    [bA1Im, bLeftCols.imA1], [bA1Mag, bLeftCols.cA1, "circles"], [bA1FitMag, bLeftCols.fitA1], [bA1FitIm, bLeftCols.fitA1],
    [bCeIm, bLeftCols.imCe], [bCeMag, bLeftCols.cCe, "circles"], [bCeFitMag, bLeftCols.fitCe], [bCeFitIm, bLeftCols.fitCe]
  ]),
  xTicks: d3.range(0, 5.01, 0.5), xLabels: bXLabels, yTicks: d3.range(1, 10, 1),
  tickLen: 8, tickFont: 38, tickBaseline: 1622,
  xTitle: ["Radial Distance R / \u00c5", 455, 1668, 41], yTitle: [FT, 123, 1245, 39],
  legendWidth: 6, legendFont: 33,
  legend: legendRows(bLeftNames,
    [bLeftCols.imB2, bLeftCols.fitB2, bLeftCols.imA1, bLeftCols.fitA1, bLeftCols.imCe, bLeftCols.fitCe],
    [bLeftCols.cB2, null, bLeftCols.cA1, null, bLeftCols.cCe, null],
    [934, 985, 1127, 1177, 1328, 1379],
    [421, 421, 421, 421, 499, 499], [498, 498, 498, 498, 577, 577], [506, 506, 506, 506, 584, 584])
});

// ---------------- panel (b) right ----------------
var bRightCols = { imF2: "#6a0e0e", cF2: "#8c1c48", fitF2: "#3b4a50", imC3: "#1c1caa", cC3: "#2f55f0", fitC3: "#8a2ff0", imCe: "#000000", cCe: "#000000", fitCe: "#ff1f1f" };
panel({
  id: "bR", box: [855, 1475, 892, 1583], xDomain: [0, 5], yDomain: [0, 10],
  curve: d3.curveMonotoneX, lineWidth: 5.5, markerStep: 0.03, markerR: 6,
  series: ftSeries([
    [bF2Im, bRightCols.imF2], [bF2Mag, bRightCols.cF2, "circles"], [bF2FitMag, bRightCols.fitF2], [bF2FitIm, bRightCols.fitF2],
    [bC3Im, bRightCols.imC3], [bC3Mag, bRightCols.cC3, "circles"], [bC3FitMag, bRightCols.fitC3], [bC3FitIm, bRightCols.fitC3],
    [bCe2Im, bRightCols.imCe], [bCe2Mag, bRightCols.cCe, "circles"], [bCe2FitMag, bRightCols.fitCe], [bCe2FitIm, bRightCols.fitCe]
  ]),
  xTicks: d3.range(0, 5.01, 0.5), xLabels: bXLabels, yTicks: d3.range(1, 10, 1),
  tickLen: 8, tickFont: 38, tickBaseline: 1622,
  xTitle: ["Radial Distance R / \u00c5", 1165, 1668, 41], yTitle: [FT, 841, 1246, 39],
  legendWidth: 6, legendFont: 33,
  legend: legendRows(bRightNames,
    [bRightCols.imF2, bRightCols.fitF2, bRightCols.imC3, bRightCols.fitC3, bRightCols.imCe, bRightCols.fitCe],
    [bRightCols.cF2, null, bRightCols.cC3, null, bRightCols.cCe, null],
    [930, 978, 1151, 1198, 1342, 1389],
    [1130, 1130, 1130, 1130, 1218, 1218], [1209, 1209, 1209, 1209, 1297, 1297], [1216, 1216, 1216, 1216, 1304, 1304])
});

// ---------------- panel (c) left ----------------
var cLeftCols = { imB2: "#3060f0", cB2: "#3060f0", fitB2: "#d83ad8", imA1: "#000000", cA1: "#000000", fitA1: "#cc0e0e" };
panel({
  id: "cL", box: [148, 769, 1737, 2386], xDomain: [0, 6], yDomain: [0, 12.4],
  curve: d3.curveMonotoneX, lineWidth: 5.5, markerStep: 0.03, markerR: 5.5,
  series: ftSeries([
    [cB2Im, cLeftCols.imB2], [cB2Mag, cLeftCols.cB2, "circles"], [cB2FitMag, cLeftCols.fitB2], [cB2FitIm, cLeftCols.fitB2],
    [cA1Im, cLeftCols.imA1], [cA1Mag, cLeftCols.cA1, "circles"], [cA1FitMag, cLeftCols.fitA1], [cA1FitIm, cLeftCols.fitA1]
  ]),
  xTicks: d3.range(0, 6.01, 0.5), xLabels: cXLabels, yTicks: d3.range(1, 13, 1),
  tickLen: 8, tickFont: 38, tickBaseline: 2426,
  xTitle: ["Radial Distance R / \u00c5", 459, 2471, 40], yTitle: [FT, 126, 2072, 42],
  legendWidth: 6, legendFont: 36,
  legend: legendRows(cLeftNames,
    [cLeftCols.imB2, cLeftCols.fitB2, cLeftCols.imA1, cLeftCols.fitA1],
    [cLeftCols.cB2, null, cLeftCols.cA1, null],
    [1843, 1903, 2114, 2172], 386, 469, 479)
});

// ---------------- panel (c) right ----------------
var cRightCols = { imF2: "#2ca02c", cF2: "#33b833", fitF2: "#9a4ce6", imC3: "#4a0a0a", cC3: "#7a1c44", fitC3: "#37474f" };
panel({
  id: "cR", box: [855, 1473, 1736, 2386], xDomain: [0, 6], yDomain: [0, 12.4],
  curve: d3.curveMonotoneX, lineWidth: 5.5, markerStep: 0.03, markerR: 5.5,
  series: ftSeries([
    [cF2Im, cRightCols.imF2], [cF2Mag, cRightCols.cF2, "circles"], [cF2FitMag, cRightCols.fitF2], [cF2FitIm, cRightCols.fitF2],
    [cC3Im, cRightCols.imC3], [cC3Mag, cRightCols.cC3, "circles"], [cC3FitMag, cRightCols.fitC3], [cC3FitIm, cRightCols.fitC3]
  ]),
  xTicks: d3.range(0, 6.01, 0.5), xLabels: cXLabels, yTicks: d3.range(1, 13, 1),
  tickLen: 8, tickFont: 38, tickBaseline: 2426,
  xTitle: ["Radial Distance R / \u00c5", 1164, 2471, 40], yTitle: [FT, 833, 2069, 42],
  legendWidth: 6, legendFont: 36,
  legend: legendRows(cRightNames,
    [cRightCols.imF2, cRightCols.fitF2, cRightCols.imC3, cRightCols.fitC3],
    [cRightCols.cF2, null, cRightCols.cC3, null],
    [1862, 1921, 2155, 2213], 1087, 1169, 1179)
});

// panel letters
[["(a)", 44], ["(b)", 904], ["(c)", 1755]].forEach(function(p) {
  svg.append("text").attr("x", 1).attr("y", p[1])
    .attr("font-family", "'Liberation Serif', 'Times New Roman', serif").attr("font-size", 48).text(p[0]);
});
</script>
</body>
</html>
